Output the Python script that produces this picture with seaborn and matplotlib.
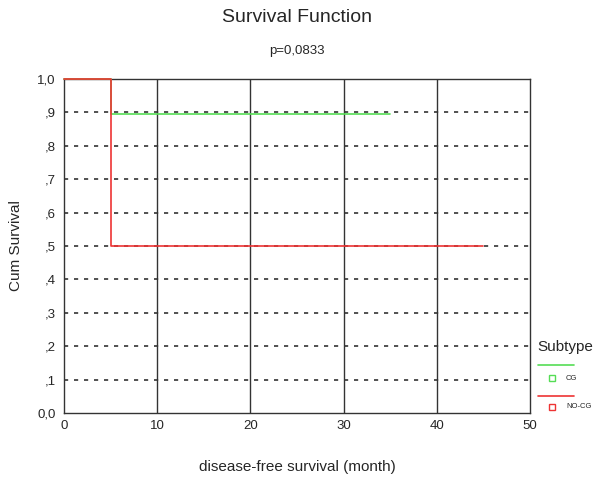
import matplotlib
matplotlib.use("Agg")
import matplotlib.pyplot as plt
import seaborn as sns
import pandas as pd
from matplotlib.lines import Line2D

# data
groups = ["CG", "NO-CG"]
cg_time = [0, 5, 35]
cg_surv = [1.0, 0.895, 0.895]
nocg_time = [0, 5, 45]
nocg_surv = [1.0, 0.5, 0.5]
xticks = [0, 10, 20, 30, 40, 50]
yticks = [0.0, 0.1, 0.2, 0.3, 0.4, 0.5, 0.6, 0.7, 0.8, 0.9, 1.0]
ytick_labels = ["0,0", ",1", ",2", ",3", ",4", ",5", ",6", ",7", ",8", ",9", "1,0"]
colors = {"CG": "#55dd55", "NO-CG": "#ee3333"}

df = pd.concat([
    pd.DataFrame({"time": cg_time, "surv": cg_surv, "Subtype": "CG"}),
    pd.DataFrame({"time": nocg_time, "surv": nocg_surv, "Subtype": "NO-CG"}),
])

sns.set_style("white")
plt.rcParams["font.family"] = ["Liberation Sans", "DejaVu Sans"]

fig = plt.figure(figsize=(6, 4.84), dpi=100)
ax = fig.add_axes([64/600, 1-413/484, (530-64)/600, (413-79)/484])

for x in xticks[1:-1]:
    ax.axvline(x, color="#333333", lw=1, zorder=1)
for y in yticks[1:-1]:
    ax.axhline(y, color="#333333", lw=1.2, ls=(0, (2.5, 3.5)), zorder=1)

sns.lineplot(data=df, x="time", y="surv", hue="Subtype", palette=colors,
             drawstyle="steps-post", estimator=None, sort=False, lw=1.2,
             legend=False, ax=ax)
for ln in ax.get_lines()[-2:]:
    ln.set_clip_on(False)
    ln.set_zorder(5)

ax.set_xlim(0, 50)
ax.set_ylim(0, 1.0)
ax.set_xticks(xticks)
ax.set_xticklabels([str(v) for v in xticks], fontsize=9.5)
ax.set_yticks(yticks)
ax.set_yticklabels(ytick_labels, fontsize=9.5)
ax.tick_params(axis="both", length=3, width=1, color="#333333", direction="out", pad=3)
ax.tick_params(axis="x", length=0, pad=5)
for s in ax.spines.values():
    s.set_color("#333333")
    s.set_linewidth(1)
    s.set_zorder(2)
ax.set_xlabel("")
ax.set_ylabel("")

fig.text(297/600, 1-17/484, "Survival Function", ha="center", va="center", fontsize=14)
fig.text(297/600, 1-51/484, "p=0,0833", ha="center", va="center", fontsize=9.5)
fig.text(297/600, 1-467/484, "disease-free survival (month)", ha="center", va="center", fontsize=11)
fig.text(16/600, 1-246/484, "Cum Survival", ha="center", va="center", rotation=90, fontsize=11)

# legend
fig.text(537/600, 1-347/484, "Subtype", ha="left", va="center", fontsize=11)
ys = {"CG": (365, 378), "NO-CG": (396, 407)}
for g in groups:
    ly, my = ys[g]
    fig.add_artist(Line2D([538/600, 574/600], [1-ly/484, 1-ly/484], color=colors[g], lw=1.2,
                          transform=fig.transFigure))
    fig.add_artist(Line2D([552/600], [1-my/484], marker="s", mfc="none", mec=colors[g], ms=4,
                          mew=1, transform=fig.transFigure))
    fig.text(566/600, 1-my/484, g, ha="left", va="center", fontsize=5.5)

fig.savefig("out.png", dpi=100)
